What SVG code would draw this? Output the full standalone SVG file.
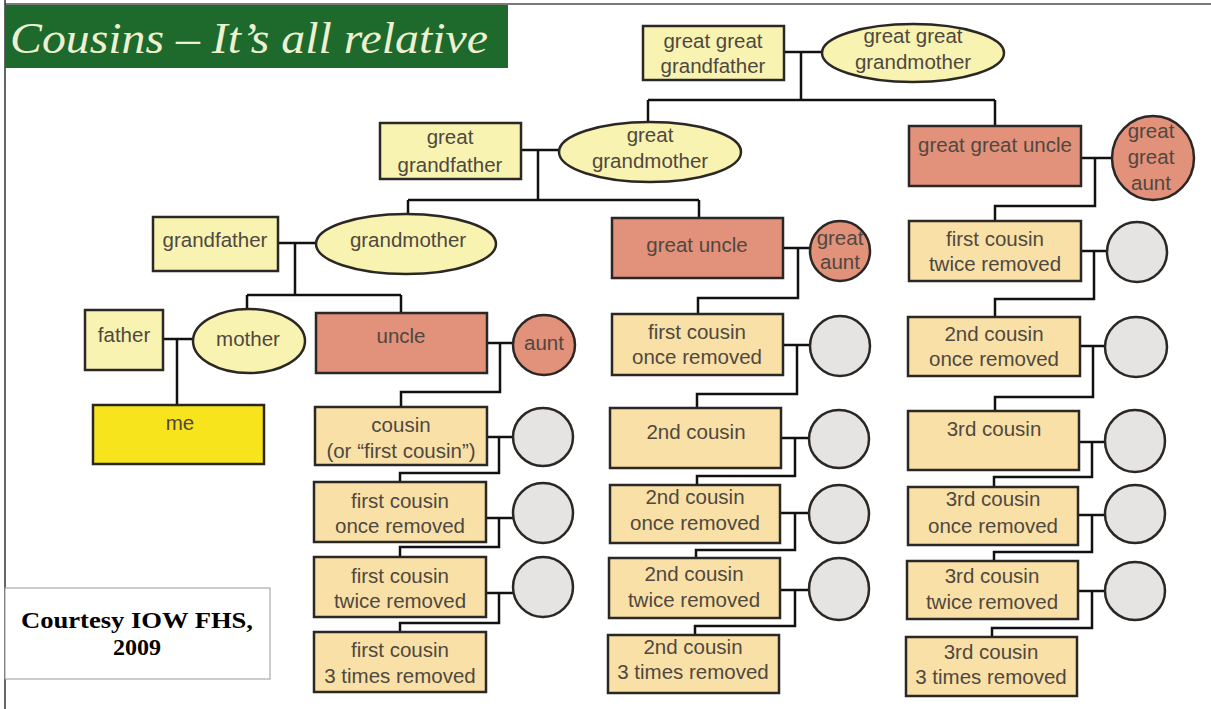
<svg xmlns="http://www.w3.org/2000/svg" width="1211" height="709" viewBox="0 0 1211 709">
<style>
.n{stroke:#2b2724;stroke-width:2.5}
.anc{fill:#f9f3b1}
.sal{fill:#e2917b}
.cou{fill:#f9e0a6}
.gry{fill:#e5e4e2}
.me{fill:#f8e41c}
.t{font-family:"Liberation Sans",Arial,sans-serif;font-size:20.5px;fill:#4f4840;text-anchor:middle}
.c path{fill:none;stroke:#111;stroke-width:2.5}
.cr{font-family:"Liberation Serif","Times New Roman",serif;font-weight:bold;font-size:24px;fill:#000;text-anchor:middle}
</style>
<rect x="0" y="0" width="1211" height="709" fill="#ffffff"/>
<line x1="5" y1="4" x2="1211" y2="4" stroke="#7a7a7a" stroke-width="2"/>
<line x1="5" y1="0" x2="5" y2="709" stroke="#333" stroke-width="1.5"/>
<g id="title">
<rect x="5" y="5" width="503" height="63" fill="#1d6a2c"/>
<text x="10" y="53" font-family="Liberation Serif,serif" font-style="italic" font-size="44" fill="#eef0d2" textLength="478" lengthAdjust="spacingAndGlyphs">Cousins – It’s all relative</text>
</g>
<g id="courtesy">
<rect x="5" y="588" width="265" height="91" fill="#fff" stroke="#999" stroke-width="1"/>
<text class="cr" x="137" y="628" textLength="232" lengthAdjust="spacingAndGlyphs">Courtesy IOW FHS,</text>
<text class="cr" x="137" y="655">2009</text>
</g>
<g class="c" id="connectors">
<path d="M784,52H822M801,52V100M648,100H995M648,100V122M995,100V126"/>
<path d="M521,150H559M538,150V200M408,200H699M408,200V215M699,200V218"/>
<path d="M1081,158H1112M1095,158V206H995V221"/>
<path d="M278,243H316M295,243V295M247,295H401M247,295V310M401,295V313"/>
<path d="M163,339H193M177,339V405"/>
<path d="M487,343H513M500,343V392H401V407"/>
<path d="M487,437H513M499,437V473H400V482"/>
<path d="M486,518H513M499,518V547H400V557"/>
<path d="M486,593H513M499,593V623H400V632"/>
<path d="M783,248H810M798,248V298H698V314"/>
<path d="M783,345H810M797,345V394H697V408"/>
<path d="M781,438H809M795,438V476H697V485"/>
<path d="M780,513H809M795,513V550H696V558"/>
<path d="M780,590H809M795,590V626H695V635"/>
<path d="M1081,251H1107M1094,251V299H995V317"/>
<path d="M1080,346H1105M1093,346V397H995V411"/>
<path d="M1079,442H1105M1092,442V477H994V487"/>
<path d="M1078,515H1105M1092,515V552H994V561"/>
<path d="M1078,591H1105M1092,591V628H992V637"/>
</g>
<g id="ggf"><rect class="n anc" x="643" y="26" width="141" height="54"/><text class="t" x="713" y="48">great great</text><text class="t" x="713" y="73">grandfather</text></g>
<g id="ggm"><ellipse class="n anc" cx="913" cy="53" rx="91" ry="29"/><text class="t" x="913" y="43">great great</text><text class="t" x="913" y="69">grandmother</text></g>
<g id="gf"><rect class="n anc" x="380" y="123" width="141" height="56"/><text class="t" x="450" y="144">great</text><text class="t" x="450" y="172">grandfather</text></g>
<g id="gm"><ellipse class="n anc" cx="650" cy="152" rx="91" ry="30"/><text class="t" x="650" y="142">great</text><text class="t" x="650" y="168">grandmother</text></g>
<g id="ggu"><rect class="n sal" x="909" y="126" width="172" height="60"/><text class="t" x="995" y="152">great great uncle</text></g>
<g id="gga"><ellipse class="n sal" cx="1153" cy="158" rx="41" ry="42"/><text class="t" x="1151" y="138">great</text><text class="t" x="1151" y="164">great</text><text class="t" x="1151" y="190">aunt</text></g>
<g id="grandfather"><rect class="n anc" x="153" y="217" width="125" height="54"/><text class="t" x="215" y="247">grandfather</text></g>
<g id="grandmother"><ellipse class="n anc" cx="406" cy="244" rx="90" ry="30"/><text class="t" x="408" y="247">grandmother</text></g>
<g id="greatuncle"><rect class="n sal" x="612" y="218" width="171" height="60"/><text class="t" x="697" y="252">great uncle</text></g>
<g id="greataunt"><ellipse class="n sal" cx="840" cy="251" rx="30" ry="30"/><text class="t" x="840" y="245">great</text><text class="t" x="840" y="269">aunt</text></g>
<g id="father"><rect class="n anc" x="85" y="310" width="78" height="60"/><text class="t" x="124" y="342">father</text></g>
<g id="mother"><ellipse class="n anc" cx="249" cy="341" rx="56" ry="32"/><text class="t" x="248" y="346">mother</text></g>
<g id="uncle"><rect class="n sal" x="316" y="313" width="171" height="60"/><text class="t" x="401" y="343">uncle</text></g>
<g id="aunt"><ellipse class="n sal" cx="544" cy="345" rx="31" ry="30"/><text class="t" x="544" y="350">aunt</text></g>
<g id="me"><rect class="n me" x="93" y="405" width="171" height="59"/><text class="t" x="180" y="430">me</text></g>
<g id="cousin"><rect class="n cou" x="315" y="407" width="172" height="58"/><text class="t" x="401" y="432">cousin</text><text class="t" x="401" y="458">(or “first cousin”)</text></g>
<g id="cousin-sp"><ellipse class="n gry" cx="543" cy="437" rx="30" ry="29"/></g>
<g id="fc1r-l"><rect class="n cou" x="314" y="482" width="172" height="60"/><text class="t" x="400" y="508">first cousin</text><text class="t" x="400" y="533">once removed</text></g>
<g id="fc1r-l-sp"><ellipse class="n gry" cx="543" cy="513" rx="30" ry="30"/></g>
<g id="fc2r-l"><rect class="n cou" x="314" y="557" width="172" height="60"/><text class="t" x="400" y="583">first cousin</text><text class="t" x="400" y="608">twice removed</text></g>
<g id="fc2r-l-sp"><ellipse class="n gry" cx="543" cy="587" rx="30" ry="30"/></g>
<g id="fc3r"><rect class="n cou" x="314" y="632" width="172" height="60"/><text class="t" x="400" y="657">first cousin</text><text class="t" x="400" y="683">3 times removed</text></g>
<g id="fc1r-m"><rect class="n cou" x="612" y="314" width="171" height="61"/><text class="t" x="697" y="339">first cousin</text><text class="t" x="697" y="364">once removed</text></g>
<g id="fc1r-m-sp"><ellipse class="n gry" cx="840" cy="346" rx="30" ry="30"/></g>
<g id="c2"><rect class="n cou" x="610" y="408" width="171" height="60"/><text class="t" x="696" y="439">2nd cousin</text></g>
<g id="c2-sp"><ellipse class="n gry" cx="839" cy="439" rx="30" ry="29"/></g>
<g id="c2-1r"><rect class="n cou" x="610" y="485" width="170" height="58"/><text class="t" x="695" y="504">2nd cousin</text><text class="t" x="695" y="530">once removed</text></g>
<g id="c2-1r-sp"><ellipse class="n gry" cx="839" cy="514" rx="30" ry="29"/></g>
<g id="c2-2r"><rect class="n cou" x="609" y="558" width="171" height="60"/><text class="t" x="694" y="581">2nd cousin</text><text class="t" x="694" y="607">twice removed</text></g>
<g id="c2-2r-sp"><ellipse class="n gry" cx="839" cy="589" rx="30" ry="31"/></g>
<g id="c2-3r"><rect class="n cou" x="608" y="635" width="171" height="58"/><text class="t" x="693" y="654">2nd cousin</text><text class="t" x="693" y="679">3 times removed</text></g>
<g id="fc2r-r"><rect class="n cou" x="909" y="221" width="172" height="60"/><text class="t" x="995" y="246">first cousin</text><text class="t" x="995" y="271">twice removed</text></g>
<g id="fc2r-r-sp"><ellipse class="n gry" cx="1137" cy="252" rx="30" ry="30"/></g>
<g id="c2-1r-r"><rect class="n cou" x="908" y="317" width="172" height="59"/><text class="t" x="994" y="341">2nd cousin</text><text class="t" x="994" y="366">once removed</text></g>
<g id="c2-1r-r-sp"><ellipse class="n gry" cx="1136" cy="347" rx="31" ry="30"/></g>
<g id="c3"><rect class="n cou" x="908" y="411" width="171" height="59"/><text class="t" x="994" y="436">3rd cousin</text></g>
<g id="c3-sp"><ellipse class="n gry" cx="1135" cy="441" rx="30" ry="31"/></g>
<g id="c3-1r"><rect class="n cou" x="908" y="487" width="170" height="58"/><text class="t" x="993" y="506">3rd cousin</text><text class="t" x="993" y="533">once removed</text></g>
<g id="c3-1r-sp"><ellipse class="n gry" cx="1135" cy="514" rx="30" ry="29"/></g>
<g id="c3-2r"><rect class="n cou" x="907" y="561" width="171" height="58"/><text class="t" x="992" y="583">3rd cousin</text><text class="t" x="992" y="609">twice removed</text></g>
<g id="c3-2r-sp"><ellipse class="n gry" cx="1135" cy="591" rx="30" ry="29"/></g>
<g id="c3-3r"><rect class="n cou" x="906" y="637" width="171" height="59"/><text class="t" x="991" y="659">3rd cousin</text><text class="t" x="991" y="684">3 times removed</text></g>
</svg>
